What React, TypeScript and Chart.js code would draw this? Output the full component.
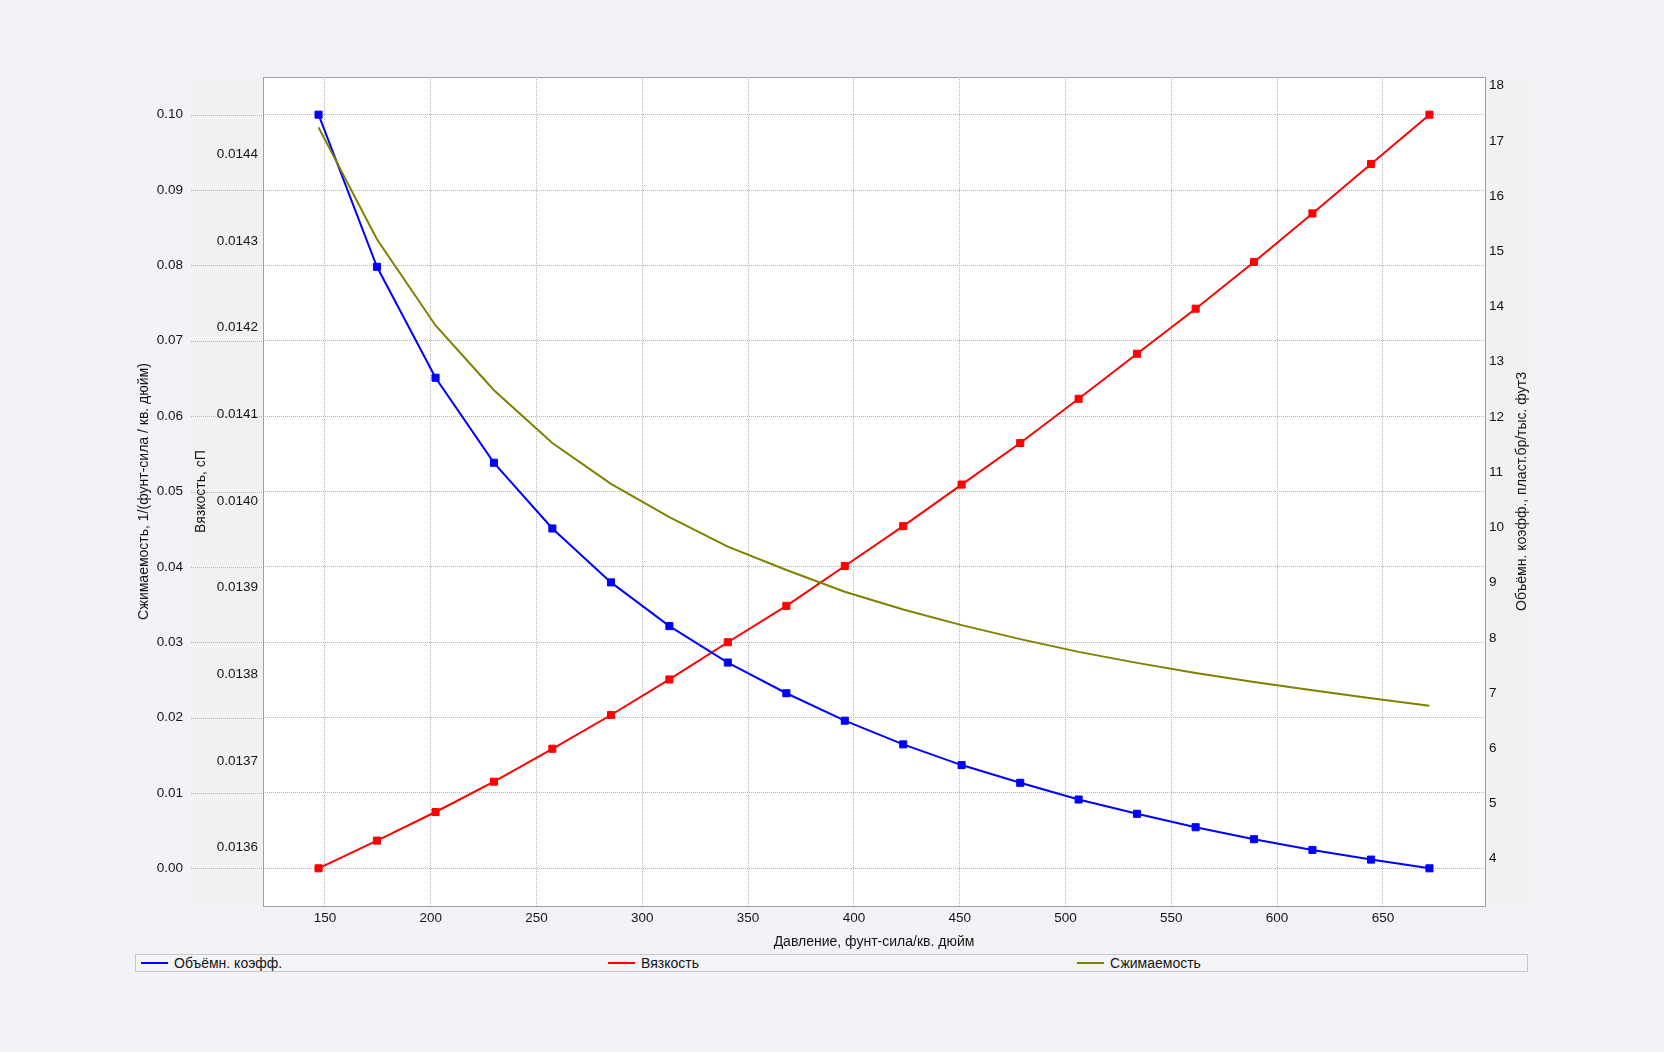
import React, { useEffect, useRef } from "react";
import { Chart, registerables } from "chart.js";

Chart.register(...registerables);

// ---- data ----
const pressure = [147.0, 174.6, 202.3, 229.9, 257.5, 285.2, 312.8, 340.4, 368.1, 395.7, 423.3, 450.9, 478.6, 506.2, 533.8, 561.5, 589.1, 616.7, 644.4, 672.0];
const volumeFactor = [17.475, 14.72, 12.71, 11.17, 9.98, 9.004, 8.212, 7.552, 6.996, 6.499, 6.07, 5.695, 5.374, 5.071, 4.812, 4.569, 4.352, 4.158, 3.983, 3.825];
const viscosity = [0.013576, 0.013608, 0.013641, 0.013676, 0.013714, 0.013753, 0.013794, 0.013837, 0.013879, 0.013925, 0.013971, 0.014019, 0.014067, 0.014118, 0.01417, 0.014222, 0.014276, 0.014332, 0.014389, 0.014446];
const compressibility = [0.09832, 0.08347, 0.07203, 0.06343, 0.05643, 0.05102, 0.04659, 0.04269, 0.03958, 0.0367, 0.03435, 0.03227, 0.03041, 0.02872, 0.02726, 0.02593, 0.02473, 0.02363, 0.02256, 0.02158];

const pressureTicks = [150, 200, 250, 300, 350, 400, 450, 500, 550, 600, 650];
const compressTicks = [0, 0.01, 0.02, 0.03, 0.04, 0.05, 0.06, 0.07, 0.08, 0.09, 0.1];
const viscTicks = [0.0136, 0.0137, 0.0138, 0.0139, 0.014, 0.0141, 0.0142, 0.0143, 0.0144];
const volumeTicks = [4, 5, 6, 7, 8, 9, 10, 11, 12, 13, 14, 15, 16, 17, 18];
const compressRange = [-0.005, 0.105];

const seriesNames = ["Объёмн. коэфф.", "Вязкость", "Сжимаемость"];
const seriesColors = ["#0000ff", "#ff0000", "#808000"];

const xTitle = "Давление, фунт-сила/кв. дюйм";
const compressTitle = "Сжимаемость, 1/(фунт-сила / кв. дюйм)";
const viscTitle = "Вязкость, сП";
const volumeTitle = "Объёмн. коэфф., пласт.бр/тыс. фут3";

const FONT = "'Liberation Sans', Arial, sans-serif";
const TEXT = "#141414";
const GRID = "#b4b4b4";
const PAGE_BG = "#f1f3f6";
const PANEL_BG = "#f1f1f1";

function padded(values: number[], frac = 0.05): [number, number] {
  const lo = Math.min(...values);
  const hi = Math.max(...values);
  const p = (hi - lo) * frac;
  return [lo - p, hi + p];
}

function fixedTicks(list: number[]) {
  return (axis: any) => {
    axis.ticks = list.map((v) => ({ value: v }));
  };
}

const framePlugin = {
  id: "frame",
  beforeDraw(chart: any) {
    const { ctx, chartArea: a } = chart;
    const yc = chart.scales.yComp;
    const yv = chart.scales.yVisc;
    const yr = chart.scales.yVol;
    ctx.save();
    ctx.fillStyle = PANEL_BG;
    ctx.fillRect(yv.left + 1, a.top, yr.right - 2 - (yv.left + 1), a.bottom - a.top - 2);
    ctx.fillStyle = "#ffffff";
    ctx.fillRect(a.left, a.top, a.right - a.left, a.bottom - a.top);
    ctx.strokeStyle = GRID;
    ctx.lineWidth = 1;
    ctx.setLineDash([1, 1]);
    for (const t of yc.ticks) {
      const y = Math.round(yc.getPixelForValue(t.value)) + 0.5;
      ctx.beginPath();
      ctx.moveTo(yc.right, y);
      ctx.lineTo(a.left, y);
      ctx.stroke();
    }
    ctx.restore();
  },
  afterDraw(chart: any) {
    const { ctx, chartArea: a } = chart;
    const yr = chart.scales.yVol;
    ctx.save();
    ctx.strokeStyle = "#a0a0a0";
    ctx.lineWidth = 1;
    ctx.strokeRect(Math.round(a.left) + 0.5, Math.round(a.top) + 0.5, Math.round(a.right - a.left), Math.round(a.bottom - a.top));
    ctx.translate(yr.right - 8, (a.top + a.bottom) / 2);
    ctx.rotate(-Math.PI / 2);
    ctx.fillStyle = TEXT;
    ctx.font = `14px ${FONT}`;
    ctx.textAlign = "center";
    ctx.textBaseline = "middle";
    ctx.fillText(volumeTitle, 0, 0);
    ctx.restore();
  },
};

export default function App() {
  const ref = useRef<HTMLCanvasElement | null>(null);

  useEffect(() => {
    if (!ref.current) return;
    const [xMin, xMax] = padded(pressure);
    const [vMin, vMax] = padded(viscosity);
    const [bMin, bMax] = padded(volumeFactor);
    const tickFont = { family: FONT, size: 13.5 };
    const titleFont = { family: FONT, size: 14 };

    const chart = new Chart(ref.current, {
      type: "line",
      data: {
        datasets: [
          {
            label: seriesNames[2],
            data: pressure.map((x, i) => ({ x, y: compressibility[i] })),
            yAxisID: "yComp",
            borderColor: seriesColors[2],
            backgroundColor: seriesColors[2],
            borderWidth: 2,
            pointRadius: 0,
            tension: 0,
          },
          {
            label: seriesNames[0],
            data: pressure.map((x, i) => ({ x, y: volumeFactor[i] })),
            yAxisID: "yVol",
            borderColor: seriesColors[0],
            backgroundColor: seriesColors[0],
            borderWidth: 2,
            pointStyle: "rect",
            pointRadius: 5,
            pointBorderWidth: 1,
            tension: 0,
          },
          {
            label: seriesNames[1],
            data: pressure.map((x, i) => ({ x, y: viscosity[i] })),
            yAxisID: "yVisc",
            borderColor: seriesColors[1],
            backgroundColor: seriesColors[1],
            borderWidth: 2,
            pointStyle: "rect",
            pointRadius: 5,
            pointBorderWidth: 1,
            tension: 0,
          },
        ],
      },
      options: {
        animation: false,
        responsive: false,
        devicePixelRatio: 1,
        layout: { padding: { left: 135, right: 134, top: 77, bottom: 100 } },
        plugins: { legend: { display: false }, tooltip: { enabled: false } },
        scales: {
          x: {
            type: "linear",
            position: "bottom",
            min: xMin,
            max: xMax,
            afterBuildTicks: fixedTicks(pressureTicks),
            afterFit: (s: any) => {
              s.height = 46;
            },
            grid: { color: GRID, lineWidth: 1, drawTicks: false },
            border: { display: false, dash: [1, 1] },
            ticks: { color: TEXT, font: tickFont, padding: 4, maxRotation: 0, callback: (v: any) => String(v) },
            title: { display: true, text: xTitle, color: TEXT, font: titleFont, padding: { top: 0, bottom: 1 } },
          },
          yComp: {
            type: "linear",
            position: "left",
            weight: 2,
            min: compressRange[0],
            max: compressRange[1],
            afterBuildTicks: fixedTicks(compressTicks),
            afterFit: (s: any) => {
              s.width = 56;
            },
            grid: { color: GRID, lineWidth: 1, drawTicks: false },
            border: { display: false, dash: [1, 1] },
            ticks: { color: TEXT, font: tickFont, padding: 8, callback: (v: any) => Number(v).toFixed(2) },
            title: { display: true, text: compressTitle, color: TEXT, font: titleFont, padding: { top: 1, bottom: 0 } },
          },
          yVisc: {
            type: "linear",
            position: "left",
            weight: 1,
            min: vMin,
            max: vMax,
            afterBuildTicks: fixedTicks(viscTicks),
            afterFit: (s: any) => {
              s.width = 72;
            },
            grid: { display: false, drawTicks: false },
            border: { display: false },
            ticks: { color: TEXT, font: tickFont, padding: 5, callback: (v: any) => Number(v).toFixed(4) },
            title: { display: true, text: viscTitle, color: TEXT, font: titleFont, padding: { top: 1.5, bottom: 0 } },
          },
          yVol: {
            type: "linear",
            position: "right",
            min: bMin,
            max: bMax,
            afterBuildTicks: fixedTicks(volumeTicks),
            afterFit: (s: any) => {
              s.width = 45;
            },
            grid: { display: false, drawTicks: false },
            border: { display: false },
            ticks: { color: TEXT, font: tickFont, padding: 4, callback: (v: any) => String(v) },
          },
        },
      },
      plugins: [framePlugin],
    } as any);

    return () => chart.destroy();
  }, []);

  const legendLeft = [141, 608, 1077];

  return (
    <div
      style={{
        position: "absolute",
        left: 0,
        top: 0,
        width: 1664,
        height: 1052,
        background: PAGE_BG,
        overflow: "hidden",
      }}
    >
      <canvas ref={ref} width={1664} height={1052} style={{ position: "absolute", left: 0, top: 0, width: 1664, height: 1052 }} />
      <div
        style={{
          position: "absolute",
          left: 135,
          top: 954,
          width: 1393,
          height: 18,
          boxSizing: "border-box",
          border: "1px solid #c8c8c8",
          background: "#f3f4f7",
          fontFamily: FONT,
          fontSize: 14,
          color: TEXT,
        }}
      >
        {seriesNames.map((name, i) => (
          <div
            key={name}
            style={{
              position: "absolute",
              left: legendLeft[i] - 136,
              top: 0,
              height: 16,
              display: "flex",
              alignItems: "center",
              whiteSpace: "nowrap",
            }}
          >
            <span style={{ display: "inline-block", width: 27, height: 2, background: seriesColors[i], marginRight: 6 }} />
            <span>{name}</span>
          </div>
        ))}
      </div>
    </div>
  );
}
